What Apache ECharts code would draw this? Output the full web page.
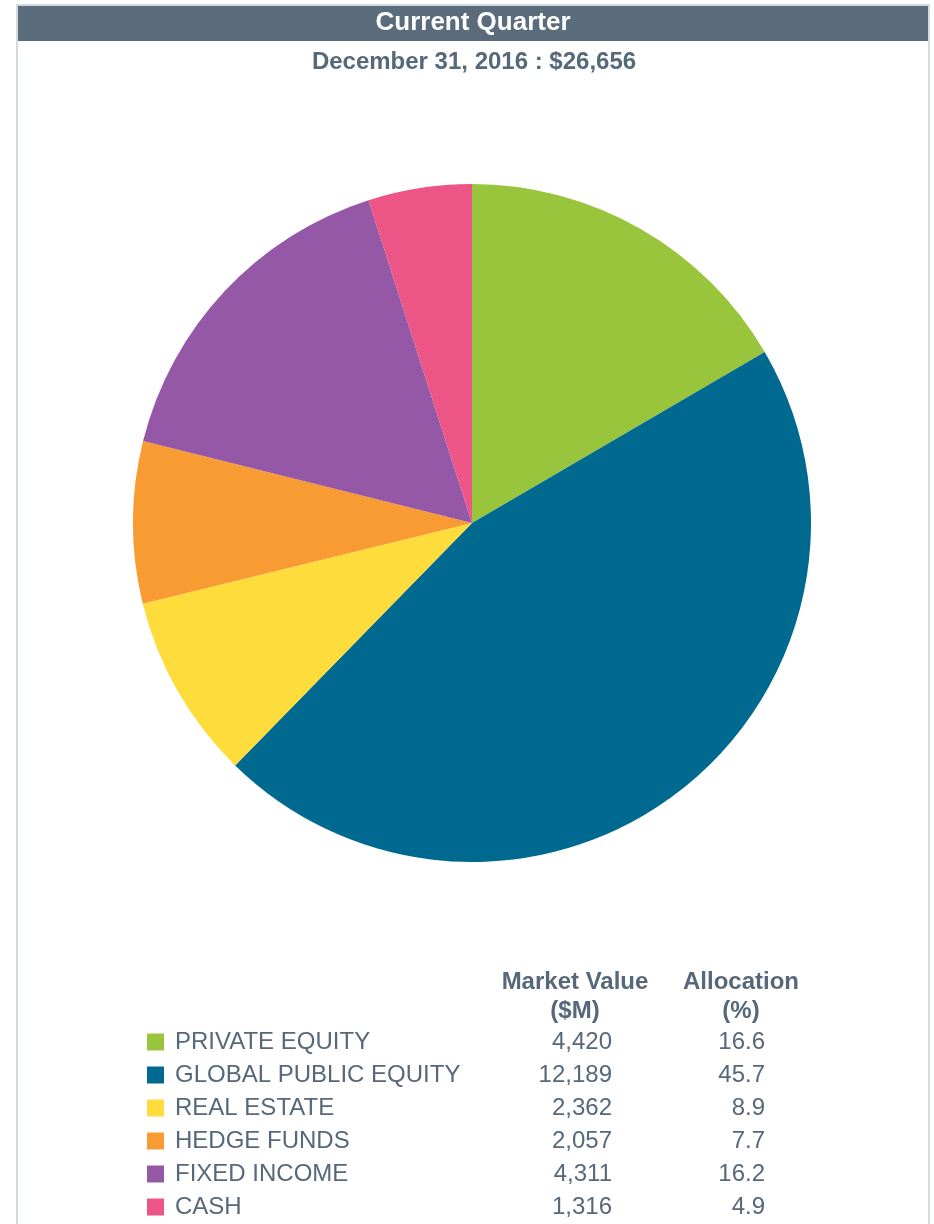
<!DOCTYPE html>
<html>
<head>
<meta charset="utf-8">
<script src="https://cdn.jsdelivr.net/npm/echarts@6/dist/echarts.min.js"></script>
<style>
html,body{margin:0;padding:0;background:#fff;}
#c{width:934px;height:1224px;}
</style>
</head>
<body>
<div id="c"></div>
<script>
const categories = ['PRIVATE EQUITY','GLOBAL PUBLIC EQUITY','REAL ESTATE','HEDGE FUNDS','FIXED INCOME','CASH'];
const marketValues = [4420, 12189, 2362, 2057, 4311, 1316];
const allocations = [16.6, 45.7, 8.9, 7.7, 16.2, 4.9];
const colors = ['#98c53c','#006990','#fddc3c','#f99b33','#9558a6','#ec5585'];
const titleText = 'Current Quarter';
const subtitleText = 'December 31, 2016 : $26,656';
const headerMV = 'Market Value\n($M)';
const headerAlloc = 'Allocation\n(%)';

const textColor = '#56687a';
const FONT = 'Liberation Sans, Arial, sans-serif';
const fmtNum = v => v.toLocaleString('en-US');

const chart = echarts.init(document.getElementById('c'), null, {renderer:'canvas'});
chart.setOption({
  animation: false,
  color: colors,
  title: [
    {text: titleText, left: 473, textAlign: 'center', top: 10, padding: 0, textStyle:{color:'#fff', fontFamily:FONT, fontWeight:'bold', fontSize:26}},
    {text: subtitleText, left: 474, textAlign: 'center', top: 50, padding: 0, textStyle:{color:textColor, fontFamily:FONT, fontWeight:'bold', fontSize:24}}
  ],
  graphic: [
    {type:'rect', z:-10, shape:{x:17, y:5, width:912, height:1240}, style:{fill:'#fff', stroke:'#d3d9e1', lineWidth:2}},
    {type:'rect', z:-5, shape:{x:18, y:6, width:910, height:35}, style:{fill:'#5a6b7b'}},
    {type:'text', left:495, top:968, style:{text:headerMV, fill:textColor, font:'bold 24px ' + FONT, textAlign:'center', lineHeight:29, width:160}},
    {type:'text', left:681, top:968, style:{text:headerAlloc, fill:textColor, font:'bold 24px ' + FONT, textAlign:'center', lineHeight:29, width:120}}
  ],
  legend: {
    orient: 'vertical',
    left: 147,
    top: 1030,
    height: 400,
    padding: 0,
    itemWidth: 17,
    itemHeight: 17,
    itemGap: 9,
    icon: 'rect',
    selectedMode: false,
    data: categories,
    formatter: function(name){
      const i = categories.indexOf(name);
      return '{n|' + name + '}{m|' + fmtNum(marketValues[i]) + '}{a|' + allocations[i].toFixed(1) + '}';
    },
    textStyle: {
      color: textColor,
      fontFamily: FONT,
      fontSize: 24,
      padding: [0,0,0,6],
      rich: {
        n: {width: 340, fontSize: 24, color: textColor, lineHeight: 22, fontFamily:FONT},
        m: {width: 97, align: 'right', fontSize: 24, color: textColor, lineHeight: 22, fontFamily:FONT},
        a: {width: 153, align: 'right', fontSize: 24, color: textColor, lineHeight: 22, fontFamily:FONT}
      }
    }
  },
  series: [{
    type: 'pie',
    center: [472, 523],
    radius: [0, 339],
    startAngle: 90,
    clockwise: true,
    label: {show:false},
    labelLine: {show:false},
    itemStyle: {borderWidth:0},
    emphasis: {disabled:true},
    data: categories.map((c,i)=>({name:c, value:marketValues[i]}))
  }]
});
</script>
</body>
</html>
